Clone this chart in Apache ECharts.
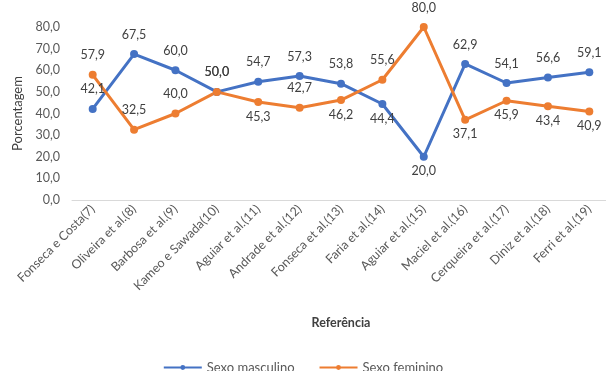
<!DOCTYPE html>
<html>
<head>
<meta charset="utf-8">
<script src="https://cdn.jsdelivr.net/npm/echarts@6/dist/echarts.min.js"></script>
<style>
  html, body { margin: 0; padding: 0; background: #fff; }
  #chart { width: 606px; height: 371px; }
</style>
</head>
<body>
<div id="chart"></div>
<script>
const categories = [
  'Fonseca e Costa(7)', 'Oliveira et al.(8)', 'Barbosa et al.(9)', 'Kameo e Sawada(10)',
  'Aguiar et al.(11)', 'Andrade et al.(12)', 'Fonseca et al.(13)', 'Faria et al.(14)',
  'Aguiar et al.(15)', 'Maciel et al.(16)', 'Cerqueira et al.(17)', 'Diniz et al.(18)',
  'Ferri et al.(19)'
]
const masculino = [42.1, 67.5, 60.0, 50.0, 54.7, 57.3, 53.8, 44.4, 20.0, 62.9, 54.1, 56.6, 59.1]
const feminino = [57.9, 32.5, 40.0, 50.0, 45.3, 42.7, 46.2, 55.6, 80.0, 37.1, 45.9, 43.4, 40.9]

// where each data label sits, as in the original
const masculinoLabelPos = ['top', 'top', 'top', 'top', 'top', 'top', 'top', 'bottom', 'bottom', 'top', 'top', 'top', 'top']
const femininoLabelPos = ['top', 'top', 'top', 'top', 'bottom', 'top', 'bottom', 'top', 'top', 'bottom', 'bottom', 'bottom', 'bottom']

const fmt = v => Number(v).toFixed(1).replace('.', ',')
const font = 'Lato, "Liberation Sans", sans-serif'

function points(values, pos) {
  return values.map((v, i) => ({
    value: v,
    label: {
      position: pos[i],
      distance: pos[i] === 'top' ? 9 : 4
    }
  }))
}

function makeSeries(name, values, pos, color) {
  return {
    name: name,
    type: 'line',
    data: points(values, pos),
    symbol: 'circle',
    symbolSize: 8,
    lineStyle: { width: 3, color: color },
    itemStyle: { color: color },
    label: {
      show: true,
      color: '#404040',
      fontSize: 12.5,
      fontFamily: font,
      formatter: p => fmt(p.value)
    }
  }
}

let chart = echarts.init(document.getElementById('chart'), null, { renderer: 'canvas' })
chart.setOption({
  animation: false,
  color: ['#4472C4', '#ED7D31'],
  textStyle: { fontFamily: font },
  grid: {
    left: 72,
    right: -4,
    top: 27,
    bottom: 171,
    containLabel: false,
    outerBoundsMode: 'none'
  },
  legend: {
    top: 356,
    left: 'center',
    itemWidth: 38,
    itemHeight: 6,
    itemGap: 24,
    data: ['Sexo masculino', 'Sexo feminino'],
    textStyle: { color: '#595959', fontSize: 13, fontFamily: font }
  },
  xAxis: {
    type: 'category',
    data: categories,
    boundaryGap: true,
    name: 'Referência',
    nameLocation: 'middle',
    nameGap: 116,
    nameTextStyle: { color: '#404040', fontSize: 12.5, fontWeight: 'bold', fontFamily: font },
    axisLine: { lineStyle: { color: '#D9D9D9', width: 1 } },
    axisTick: { show: false },
    axisLabel: {
      rotate: 45,
      interval: 0,
      margin: 7,
      color: '#595959',
      fontSize: 12.5,
      fontFamily: font
    }
  },
  yAxis: {
    type: 'value',
    min: 0,
    max: 80,
    interval: 10,
    name: 'Porcentagem',
    nameLocation: 'middle',
    nameGap: 42,
    nameTextStyle: { color: '#404040', fontSize: 13, fontFamily: font },
    axisLine: { show: false },
    axisTick: { show: false },
    splitLine: { show: false },
    axisLabel: {
      margin: 12,
      color: '#595959',
      fontSize: 12.5,
      fontFamily: font,
      formatter: fmt
    }
  },
  series: [
    makeSeries('Sexo masculino', masculino, masculinoLabelPos, '#4472C4'),
    makeSeries('Sexo feminino', feminino, femininoLabelPos, '#ED7D31')
  ]
})
</script>
</body>
</html>
